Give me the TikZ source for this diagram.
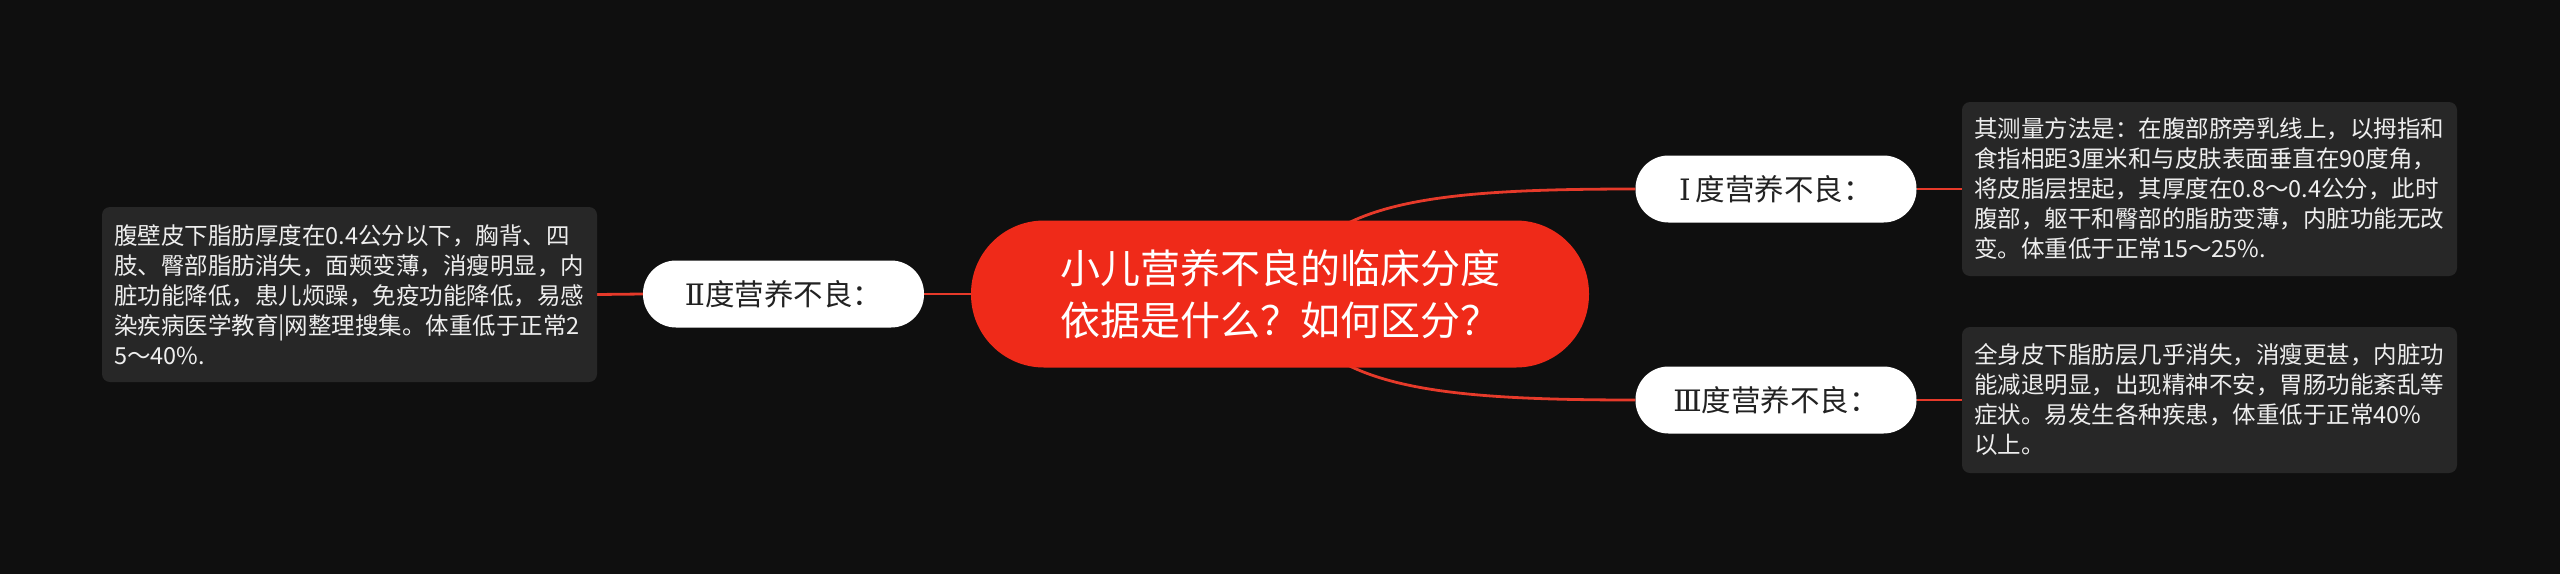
\documentclass[tikz,border=0pt]{standalone}
\usepackage{fontspec}
\setmainfont{Noto Sans CJK SC}
\newfontfamily\romfont{DejaVu Serif}
\usetikzlibrary{backgrounds}
\definecolor{bgc}{HTML}{0F0F0F}
\definecolor{rootred}{HTML}{EF2A19}
\definecolor{linkred}{HTML}{E63A2A}
\definecolor{boxgray}{HTML}{272727}
\definecolor{boxtext}{HTML}{EEEEEE}
\definecolor{nodetext}{HTML}{222222}
\tikzset{
  rootnode/.style={draw=none, fill=rootred, text=white, rounded corners=73pt,
    minimum width=618pt, minimum height=147pt, align=center, inner sep=0pt,
    font=\fontsize{40}{52}\selectfont},
  midnode/.style={draw=none, fill=white, text=nodetext, rounded corners=33pt,
    minimum width=281pt, minimum height=67pt, inner sep=0pt,
    font=\fontsize{29.5}{34}\selectfont},
  infobox/.style={draw=none, fill=boxgray, text=boxtext, rounded corners=8pt,
    text width=471pt, inner xsep=12pt, inner ysep=0pt, align=left,
    font=\fontsize{23.5}{30}\selectfont},
  link/.style={draw=linkred, line width=2.8pt}
}
\begin{document}
\begin{tikzpicture}[x=1pt,y=-1pt]
\useasboundingbox (0,0) rectangle (2560,574);
\node[rootnode] (root) at (1280,294) {小儿营养不良的临床分度\\依据是什么？如何区分？};
\node[midnode] (n1) at (1776,189) {{\romfont Ⅰ}\,度营养不良：};
\node[midnode] (n2) at (783.5,294) {{\romfont Ⅱ}度营养不良：};
\node[midnode] (n3) at (1776,400) {{\romfont Ⅲ}度营养不良：};
\node[infobox, minimum height=175pt] (b2) at (349.5,294.5) {腹壁皮下脂肪厚度在0.4公分以下，胸背、四\\肢、臀部脂肪消失，面颊变薄，消瘦明显，内\\脏功能降低，患儿烦躁，免疫功能降低，易感\\染疾病医学教育|网整理搜集。体重低于正常2\\5～40\%.};
\node[infobox, minimum height=174pt] (b1) at (2209.5,189) {其测量方法是：在腹部脐旁乳线上，以拇指和\\食指相距3厘米和与皮肤表面垂直在90度角，\\将皮脂层捏起，其厚度在0.8～0.4公分，此时\\腹部，躯干和臀部的脂肪变薄，内脏功能无改\\变。体重低于正常15～25\%.};
\node[infobox, minimum height=146pt] (b3) at (2209.5,400) {全身皮下脂肪层几乎消失，消瘦更甚，内脏功\\能减退明显，出现精神不安，胃肠功能紊乱等\\症状。易发生各种疾患，体重低于正常40\%\\以上。};
\begin{pgfonlayer}{background}
\fill[bgc] (0,0) rectangle (2560,574);
\draw[link] (root.center) -- (n2.east);
\draw[link] (n2.west) -- (b2.east);
\draw[link] (root.center) .. controls +(40,-90) and +(-220,0) .. (n1.west);
\draw[link] (root.center) .. controls +(40,90) and +(-220,0) .. (n3.west);
\draw[link] (n1.east) -- (b1.west);
\draw[link] (n3.east) -- (b3.west);
\end{pgfonlayer}
\end{tikzpicture}
\end{document}
